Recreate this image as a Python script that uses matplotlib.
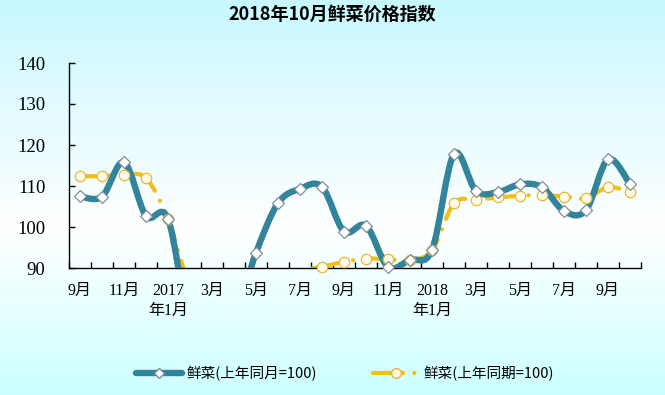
import numpy as np
import matplotlib
matplotlib.use('Agg')
import matplotlib.pyplot as plt
from matplotlib.path import Path
from matplotlib.patches import PathPatch
from matplotlib.lines import Line2D
from matplotlib.colors import LinearSegmentedColormap

# data: 2016-09 .. 2018-10, fresh vegetable price index
months = ['2016-09', '2016-10', '2016-11', '2016-12', '2017-01', '2017-02', '2017-03',
          '2017-04', '2017-05', '2017-06', '2017-07', '2017-08', '2017-09', '2017-10',
          '2017-11', '2017-12', '2018-01', '2018-02', '2018-03', '2018-04', '2018-05',
          '2018-06', '2018-07', '2018-08', '2018-09', '2018-10']
xlabels = ['9月', '', '11月', '', '2017\n年1月', '', '3月', '', '5月', '', '7月', '',
           '9月', '', '11月', '', '2018\n年1月', '', '3月', '', '5月', '', '7月', '',
           '9月', '']
yoy = [107.5, 107.4, 115.8, 102.7, 102.0, 75.8, 74.5, 77.5, 93.7, 105.8, 109.3, 109.8,
       98.9, 100.3, 90.3, 92.0, 94.4, 117.8, 108.8, 108.5, 110.4, 109.7, 103.9, 104.1,
       116.5, 110.5]
ytd = [112.4, 112.4, 112.7, 111.9, 101.9, 86.0, 84.0, 82.8, 84.5, 87.3, 89.4, 90.3,
       91.5, 92.3, 92.1, 92.0, 94.3, 105.8, 106.6, 107.2, 107.6, 107.8, 107.4, 107.0,
       109.7, 108.6]
name1 = '鲜菜(上年同月=100)'
name2 = '鲜菜(上年同期=100)'
title = '2018年10月鲜菜价格指数'

teal = '#31849B'
gold = '#F2BE1A'
cjk = ['Noto Sans CJK SC', 'DejaVu Sans']
mixed = ['Liberation Serif', 'Noto Sans CJK SC']
dash = (0, (7, 2.6, 0.01, 2.6))


def smooth_path(xs, ys):
    # excel style smoothed line as bezier path
    pts = np.column_stack([xs, ys])
    n = len(pts)
    verts = [pts[0]]
    codes = [Path.MOVETO]
    for i in range(n - 1):
        p0 = pts[i - 1] if i > 0 else pts[i]
        p3 = pts[i + 2] if i + 2 < n else pts[i + 1]
        c1 = pts[i] + (pts[i + 1] - p0) / 6.0
        c2 = pts[i + 1] - (p3 - pts[i]) / 6.0
        verts += [c1, c2, pts[i + 1]]
        codes += [Path.CURVE4] * 3
    return Path(verts, codes)


fig = plt.figure(figsize=(6.65, 3.95), dpi=100)

# background gradient
bg = fig.add_axes([0, 0, 1, 1])
cmap = LinearSegmentedColormap.from_list('bg', [(0, '#C8F8FF'), (0.58, '#FFFFFF'),
                                                (1, '#CCFFFF')])
bg.imshow(np.linspace(0, 1, 256).reshape(-1, 1), cmap=cmap, aspect='auto',
          extent=[0, 1, 0, 1])
bg.set_axis_off()

ax = fig.add_axes([69 / 665, 1 - 268 / 395, 572 / 665, 205 / 395])
ax.patch.set_visible(False)

x = np.arange(len(months))
yoy_a = np.array(yoy)
ytd_a = np.array(ytd)

ax.add_patch(PathPatch(smooth_path(x, yoy_a), fill=False, edgecolor=teal, lw=4.6,
                       capstyle='round', joinstyle='round', zorder=3))
ax.add_patch(PathPatch(smooth_path(x, ytd_a), fill=False, edgecolor=gold, lw=3.1,
                       linestyle=dash, capstyle='round', zorder=2))

ax.plot(x, np.where(ytd_a >= 90, ytd_a, np.nan), ls='none', marker='o', ms=7.5,
        mfc='#FFFBE6', mec='#E8B830', mew=0.9, clip_on=False, zorder=4)
ax.plot(x, np.where(yoy_a >= 90, yoy_a, np.nan), ls='none', marker='D', ms=6,
        mfc='white', mec='#7F8F99', mew=0.9, clip_on=False, zorder=5)

ax.set_xlim(-0.5, len(months) - 0.5)
ax.set_ylim(90, 140)
ax.set_yticks(np.arange(90, 141, 10))
for s in ['top', 'right']:
    ax.spines[s].set_visible(False)
for s in ['left', 'bottom']:
    ax.spines[s].set_linewidth(1.0)

ax.set_xticks(np.arange(len(months) + 1) - 0.5)
ax.set_xticklabels([])
ax.set_xticks(x, minor=True)
ax.set_xticklabels(xlabels, minor=True, fontfamily=mixed, fontsize=11.5,
                   linespacing=1.3, va='top')
ax.tick_params(axis='x', which='major', direction='in', length=4, width=1)
ax.tick_params(axis='x', which='minor', length=0, pad=11)
ax.tick_params(axis='y', direction='in', length=4, width=1, pad=17)
for t in ax.get_yticklabels():
    t.set_fontfamily('Liberation Serif')
    t.set_fontsize(13.5)

fig.text(0.5, 1 - 14 / 395, title, ha='center', va='center', fontsize=13,
         fontweight='bold', fontfamily=cjk)

h1 = Line2D([], [], color=teal, lw=4.6, marker='D', ms=5, mfc='white',
            mec='#7F8F99', solid_capstyle='round')
h2 = Line2D([], [], color=gold, lw=3.1, ls=dash, marker='o', ms=7,
            mfc='#FFFBE6', mec='#E8B830', dash_capstyle='round')
fig.legend([h1, h2], [name1, name2], loc='center', bbox_to_anchor=(345 / 665, 21 / 395),
           ncol=2, frameon=False, handlelength=3.2, handletextpad=0.3,
           columnspacing=3.8, prop={'family': cjk, 'size': 10.5})

fig.savefig('out.png', dpi=100)
